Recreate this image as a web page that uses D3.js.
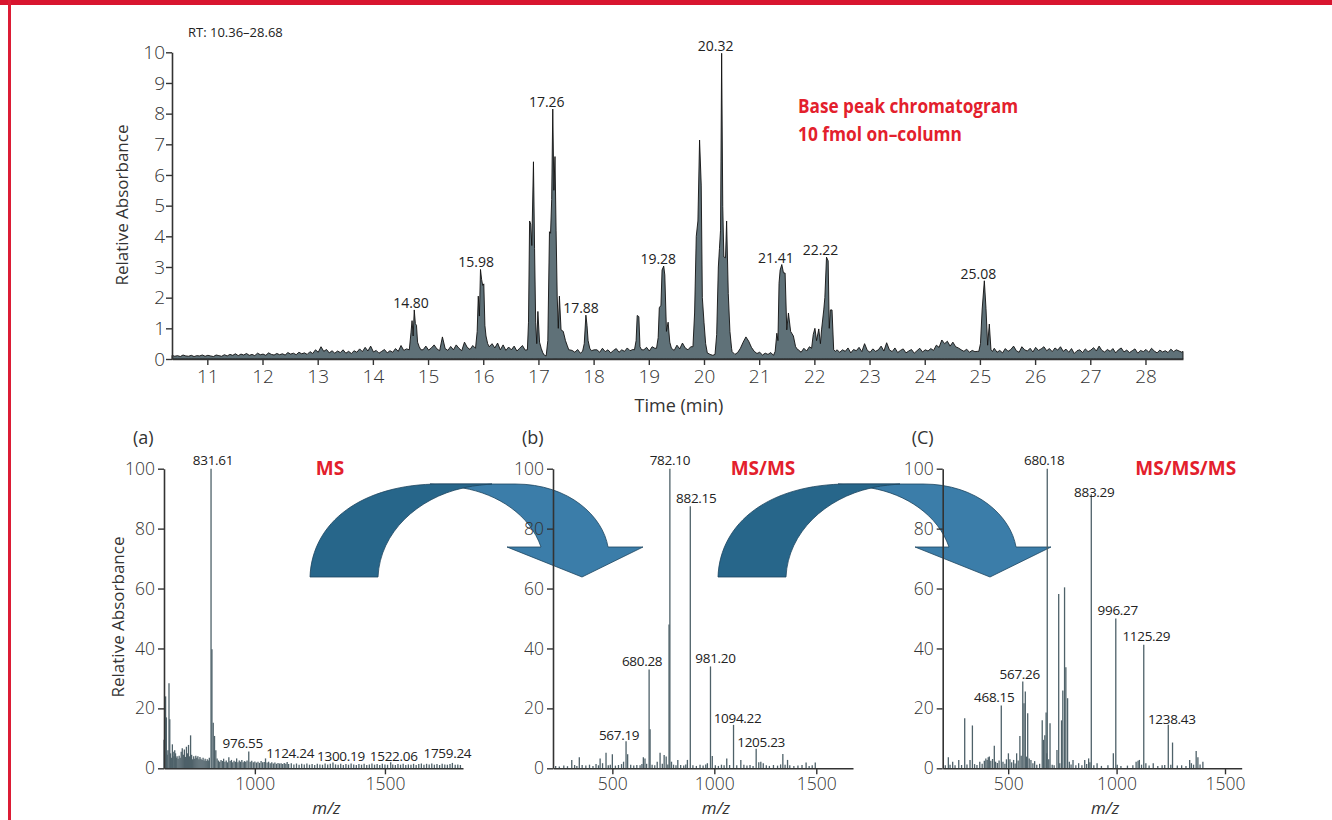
<!DOCTYPE html>
<html>
<head>
<meta charset="utf-8">
<script src="https://cdn.jsdelivr.net/npm/d3@7/dist/d3.min.js"></script>
<style>
  body { margin: 0; background: #fff; }
  svg { display: block; }
</style>
</head>
<body>
<svg id="chart" width="1332" height="820"></svg>
<script>
// ---- data: base peak chromatogram ----
const RT_START = 10.36, RT_END = 28.68;
const timeTicks = [11, 12, 13, 14, 15, 16, 17, 18, 19, 20, 21, 22, 23, 24, 25, 26, 27, 28];
const absTicks = [0, 1, 2, 3, 4, 5, 6, 7, 8, 9, 10];

// baseline noise, one value every 0.05 min from 10.36 (one row = one minute)
const BASE_STEP = 0.05;
const baseline = [
  .12,.09,.11,.08,.13,.10,.09,.12,.08,.11,.10,.13,.09,.12,.10,.08,.13,.11,.09,.14,
  .10,.15,.12,.17,.11,.16,.13,.18,.12,.15,.11,.19,.14,.16,.12,.20,.15,.13,.18,.14,
  .17,.13,.21,.16,.19,.14,.22,.17,.20,.15,.24,.18,.30,.22,.40,.25,.31,.20,.27,.19,
  .26,.21,.30,.19,.25,.18,.27,.22,.33,.24,.38,.26,.42,.23,.28,.19,.25,.31,.20,.27,
  .22,.34,.25,.44,.28,.33,.40,.50,.60,.48,.38,.30,.42,.29,.36,.46,.33,.27,.72,.34,
  .28,.41,.30,.46,.35,.27,.55,.38,.31,.44,.29,.37,.48,.33,.40,.60,.50,.36,.52,.30,
  .46,.28,.39,.30,.42,.26,.35,.44,.29,.38,.32,.40,.35,.30,.30,.30,.30,.30,.30,.30,
  .30,.30,.30,.30,.30,.28,.22,.31,.19,.26,.33,.21,.27,.30,.30,.22,.35,.24,.30,.20,
  .28,.34,.22,.30,.25,.36,.27,.31,.45,.30,.30,.30,.38,.26,.40,.35,.50,.30,.30,.30,
  .30,.38,.28,.45,.33,.52,.36,.30,.40,.55,.35,.30,.30,.30,.30,.15,.12,.20,.30,.30,
  .30,.30,.30,.24,.15,.21,.35,.55,.72,.58,.38,.25,.18,.22,.13,.19,.15,.21,.12,.30,
  .30,.30,.30,.30,.30,.30,.30,.30,.22,.35,.26,.40,.30,.30,.30,.30,.30,.30,.30,.30,
  .30,.30,.22,.30,.25,.36,.20,.31,.27,.38,.24,.50,.28,.22,.33,.25,.30,.42,.26,.53,
  .30,.24,.36,.21,.28,.33,.20,.26,.31,.19,.27,.35,.23,.30,.26,.34,.28,.45,.38,.62,
  .50,.58,.42,.55,.40,.36,.30,.25,.32,.22,.28,.24,.25,.30,.30,.30,.30,.30,.35,.22,
  .28,.20,.34,.25,.31,.42,.27,.22,.40,.30,.26,.35,.23,.38,.28,.33,.40,.27,.34,.24,
  .36,.29,.40,.25,.32,.22,.34,.18,.27,.30,.21,.33,.24,.29,.37,.26,.42,.28,.23,.31,
  .25,.34,.20,.30,.36,.23,.29,.21,.27,.33,.19,.28,.24,.31,.22,.35,.26,.20,.29,.23,
  .27,.21,.32,.24,.30,.26,.22
];
const baselineEnd = [RT_END, .25];

// peak clusters [time, relative absorbance]
const peakClusters = [
  [[14.66,.30],[14.69,.85],[14.71,1.25],[14.73,.75],[14.75,1.60],[14.77,1.15],[14.79,1.10],[14.81,.55],[14.84,.40],[14.87,.30]],
  [[15.86,.35],[15.89,.90],[15.91,2.05],[15.93,1.40],[15.95,2.92],[15.97,2.60],[15.99,2.40],[16.01,2.45],[16.03,1.10],[16.05,.75],[16.08,.50],[16.11,.40]],
  [[16.80,.30],[16.82,1.20],[16.84,4.50],[16.86,4.40],[16.88,3.70],[16.91,6.43],[16.93,3.60],[16.95,1.20],[16.97,.50],[16.99,1.55],[17.02,.55],[17.05,.35],[17.08,.20],[17.11,.12],[17.14,.10],
   [17.17,.60],[17.20,4.15],[17.22,4.10],[17.24,5.20],[17.26,8.15],[17.28,5.50],[17.30,6.60],[17.32,4.20],[17.34,2.05],[17.36,1.00],[17.38,2.05],[17.41,.95],[17.45,.90],[17.49,.60],[17.52,.45],[17.55,.30]],
  [[17.80,.25],[17.83,.50],[17.86,1.43],[17.88,1.10],[17.90,.60],[17.93,.35]],
  [[18.74,.30],[18.77,.60],[18.79,1.42],[18.82,1.38],[18.84,.40],[18.87,.30]],
  [[19.14,.35],[19.17,.70],[19.19,1.67],[19.22,1.75],[19.24,2.90],[19.27,3.03],[19.29,2.74],[19.32,.90],[19.35,1.20],[19.38,.55],[19.41,.35]],
  [[19.80,.40],[19.83,1.50],[19.86,4.00],[19.89,4.50],[19.92,7.14],[19.95,5.67],[19.97,2.00],[20.00,1.20],[20.03,.50],[20.06,.20]],
  [[20.20,.15],[20.23,.80],[20.26,3.00],[20.28,3.60],[20.30,4.20],[20.32,9.97],[20.34,4.97],[20.36,3.33],[20.39,3.30],[20.41,4.50],[20.44,2.14],[20.47,.90],[20.50,.35]],
  [[21.29,.25],[21.32,.84],[21.34,.60],[21.36,2.47],[21.38,2.90],[21.41,3.08],[21.44,2.81],[21.47,2.80],[21.50,.95],[21.53,1.50],[21.57,.90],[21.62,.75],[21.66,.40],[21.70,.30]],
  [[21.95,.35],[21.98,.80],[22.01,1.00],[22.04,.60],[22.08,.98],[22.11,.50],[22.13,.95],[22.17,1.60],[22.19,2.00],[22.22,3.32],[22.25,3.20],[22.27,1.00],[22.29,1.60],[22.32,1.60],[22.35,.30],[22.38,.25]],
  [[24.98,.25],[25.01,.50],[25.04,1.60],[25.08,2.55],[25.11,1.65],[25.14,.45],[25.17,1.14],[25.20,.30],[25.23,.25]]
];
const peakLabels = [[14.80,1.60],[15.98,2.92],[17.26,8.15],[17.88,1.43],[19.28,3.03],[20.32,9.97],[21.41,3.08],[22.22,3.32],[25.08,2.55]];

// ---- data: spectra [m/z, relative abundance] ----
const mzTicksA = [1000, 1500];
const mzTicksBC = [500, 1000, 1500];
const pctTicks = [0, 20, 40, 60, 80, 100];

const specA = [
  [651,9.5],[654,5],[657,24],[660,17],[663,4.5],[666,6],[670,28.4],[673,16.4],[676,5],[679,3.5],[683,8],[686,5.5],[689,4],[692,6],[695,5],[698,3.5],
  [701,4],[705,3.2],[709,4.2],[713,3.5],[717,5.5],[721,6.7],[725,4.5],[729,6.3],[733,3.8],[737,7.2],[741,5],[745,7.8],[749,4],[753,11],[757,4.5],
  [761,3],[765,4],[769,3.2],[773,4.2],[777,3.5],[781,4],[785,3],[789,3.8],[793,3.2],[797,2.8],[801,3.5],[805,2.6],[809,3.2],[813,2.4],[817,3],
  [821,2.6],[825,3.5],[831.6,100],[835,39.7],[840,15.2],[845,10.8],[850,6],[855,3.3],[860,2.6],[865,2.2],[870,2.8],[875,2.4],[880,3.2],[885,2.2],
  [890,2.6],[895,2],[900,3.7],[905,2.4],[910,2.8],[915,2],[920,2.5],[925,2.2],[930,3.3],[935,2],[940,2.6],[945,2.2],[950,2.8],[955,2],[960,2.4],
  [965,2.2],[970,2.6],[976.6,5.6],[982,2.2],[988,2.5],[994,2],[1000,2.3],[1006,1.9],[1012,2.2],[1018,1.8],[1024,2.4],[1030,2],[1036,2.1],[1041,3.3],
  [1047,1.9],[1053,2.2],[1059,1.7],[1065,2],[1071,1.6],[1077,1.9],[1083,1.5],[1089,1.8],[1095,1.6],[1101,1.7],[1107,1.4],[1113,1.8],[1119,1.5],
  [1124.2,2.1],[1130,1.4],[1140,1.7],[1150,1.3],[1160,1.6],[1170,1.2],[1180,1.5],[1190,1.3],[1200,1.6],[1210,1.2],[1220,1.4],[1230,1.1],[1240,1.5],
  [1250,1.3],[1260,1.2],[1270,1.6],[1280,1.3],[1290,1.5],[1300.2,1.9],[1310,1.3],[1320,1.2],[1330,1.5],[1340,1.1],[1350,1.4],[1360,1.2],[1370,1.6],
  [1380,1.3],[1390,1.1],[1400,1.4],[1410,1.2],[1420,1.5],[1430,1.1],[1440,1.3],[1450,1.6],[1460,1.2],[1470,1.4],[1480,1.1],[1490,1.5],[1500,1.3],
  [1510,1.2],[1522.1,2.0],[1530,1.3],[1540,1.1],[1550,1.4],[1560,1.2],[1570,1.5],[1580,1.1],[1590,1.3],[1600,1.2],[1610,1.5],[1620,1.1],[1630,1.4],
  [1640,1.6],[1650,1.2],[1660,1.5],[1670,1.3],[1680,1.6],[1690,1.2],[1700,1.4],[1710,1.1],[1720,1.5],[1730,1.3],[1740,1.2],[1750,1.4],[1759.2,1.8],
  [1770,1.2],[1780,1.3],[1790,1.1]
];
const labelsA = [[831.61,100],[976.55,5.6],[1124.24,2.2],[1300.19,1.4],[1522.06,1.4],[1759.24,2.4]];

const specB = [
  [222,0.8],[240,0.6],[262,0.9],[280,0.7],[301,2.8],[315,1.1],[326,0.8],[338,3.7],[352,1.1],[370,0.9],[388,1.2],[405,0.8],[420,1.4],[432,1.0],
  [440,3.3],[452,1.7],[469,5.2],[480,1.0],[490,1.2],[500,4.7],[515,0.9],[530,1.1],[545,1.4],[555,2.2],[567.2,9],[575,4.7],[590,1.2],[605,0.9],
  [620,1.1],[636,1.0],[645,1.4],[652,3.7],[660,3.3],[668,1.5],[680.3,33],[685,13],[695,1.2],[708,1.0],[720,2.2],[734,5.2],[745,1.5],[754,4.4],
  [764,3.9],[772,1.3],[778,48],[782.1,100],[790,2.2],[800,1.2],[812,1.0],[821,2.8],[835,1.1],[850,0.9],[860,1.3],[868,2.8],[882.2,87.5],[895,1.0],
  [912,0.8],[930,1.2],[945,0.9],[958,1.3],[966,1.7],[981.2,34],[990,4.1],[1005,1.0],[1020,0.8],[1035,1.2],[1048,1.0],[1061,3.3],[1075,1.1],
  [1094.2,14.5],[1110,1.0],[1130,2.8],[1145,1.2],[1160,0.9],[1175,1.1],[1190,0.8],[1205.2,6.5],[1218,2.0],[1228,2.2],[1240,1.7],[1255,1.0],
  [1270,0.8],[1290,1.1],[1310,0.9],[1325,1.3],[1336,4.8],[1347,1.2],[1359,2.8],[1370,1.0],[1390,0.8],[1410,0.9],[1430,1.1],[1450,1.9],[1465,0.8],
  [1480,1.0],[1495,1.9]
];
const labelsB = [[567.19,8.4],[680.28,33],[782.10,100],[882.15,87.5],[981.20,34],[1094.22,14],[1205.23,6]];

const specC = [
  [210,1.0],[224,3.7],[232,1.2],[244,2.2],[255,1.0],[272,2.8],[285,1.1],[299.5,16.7],[310,1.3],[324,2.8],[335,14.3],[345,1.4],[356,1.1],[369,2.2],
  [380,1.5],[390,2.5],[397,3.3],[403,2.8],[408,3.7],[413,3.9],[420,2.5],[428,3.1],[436,7.5],[442,2.2],[450,1.8],[458,2.6],[468.2,21],[476,2.2],
  [485,1.5],[492,3.0],[501,5],[508,3.0],[516,2.0],[525,2.8],[532,1.6],[539,5],[546,2.6],[554,10.8],[560,4.2],[567.3,29],[573,21.7],[579,25.6],
  [584,3.9],[590,18.4],[597,3.3],[605,2.8],[614,1.7],[622,2.4],[632,1.2],[645,1.5],[657,16],[663,9.5],[669,11],[675,18.6],[678,5],[680.2,100],
  [687,3],[693,15],[703,1.2],[712,1.0],[725,6.1],[733,58.2],[738,1.7],[746,16],[752,26],[760,60.4],[766,33.7],[774,23.4],[782,2.2],[790,1.3],
  [799,2.8],[812,1.0],[825,1.7],[840,1.0],[853,2.8],[862,1.4],[871,3.3],[877,2.0],[883.3,91.5],[895,1.0],[910,1.7],[930,0.8],[960,1.0],[985,5],
  [996.3,50],[1003,1.2],[1020,0.8],[1050,0.9],[1075,1.0],[1090,2.2],[1099,2.5],[1105,2.8],[1115,1.2],[1125.3,41.2],[1135,1.7],[1150,0.9],
  [1169,1.7],[1190,0.8],[1210,1.0],[1222,1.1],[1238.4,14.5],[1250,1.2],[1258,8.6],[1280,0.9],[1300,1.0],[1320,0.8],[1337,2.8],[1345,1.7],
  [1355,1.2],[1367,5.8],[1375,3.7],[1385,1.3],[1398,2.2]
];
const labelsC = [[468.15,21],[567.26,28.5],[680.18,100],[883.29,89.5],[996.27,50],[1125.29,41.2],[1238.43,13.5]];

// ---- style ----
const FONT = "'Open Sans', 'Noto Sans', 'DejaVu Sans', sans-serif";
const INK = "#333";
const RED = "#e3202c";
const BAR = "#4e6169";

const svg = d3.select("#chart").attr("font-family", FONT);

// frame
svg.append("rect").attr("x", 0).attr("y", 0).attr("width", 1332).attr("height", 5).attr("fill", "#d8152f");
svg.append("rect").attr("x", 8).attr("y", 0).attr("width", 3).attr("height", 820).attr("fill", "#dc1c35");

function styleAxis(g, size) {
  g.attr("font-family", FONT).attr("font-size", size);
  g.select(".domain").attr("stroke", INK).attr("stroke-width", 1.6);
  g.selectAll(".tick line").attr("stroke", INK).attr("stroke-width", 1.4);
  g.selectAll(".tick text").attr("fill", INK).attr("font-weight", 300);
}

// ---- top: chromatogram ----
const xT = d3.scaleLinear().domain([RT_START, RT_END]).range([172, 1183]);
const yT = d3.scaleLinear().domain([0, 10]).range([359, 52.3]);

const windows = peakClusters.map((c) => [c[0][0], c[c.length - 1][0]]);
const inWindow = (t) => windows.some(([a, b]) => t >= a - 1e-6 && t <= b + 1e-6);
const chromo = baseline
  .map((v, i) => [RT_START + i * BASE_STEP, v])
  .filter((d) => !inWindow(d[0]))
  .concat(peakClusters.flat(), [baselineEnd])
  .sort((a, b) => a[0] - b[0]);

svg.append("path")
  .datum(chromo)
  .attr("fill", "#5f7178")
  .attr("stroke", "#111")
  .attr("stroke-width", 0.9)
  .attr("stroke-linejoin", "miter")
  .attr("d", d3.area().x((d) => xT(d[0])).y0(yT(0)).y1((d) => yT(d[1])));

const gxT = svg.append("g").attr("transform", `translate(0,${yT(0)})`)
  .call(d3.axisBottom(xT).tickValues(timeTicks).tickFormat(d3.format("d")).tickSize(6).tickSizeOuter(0).tickPadding(5));
styleAxis(gxT, 19);
const gyT = svg.append("g").attr("transform", `translate(${xT(RT_START)},0)`)
  .call(d3.axisLeft(yT).tickValues(absTicks).tickFormat(d3.format("d")).tickSize(6).tickSizeOuter(0).tickPadding(1));
styleAxis(gyT, 19);

svg.append("g").selectAll("text").data(peakLabels).join("text")
  .attr("x", (d) => xT(d[0]) - 6)
  .attr("y", (d) => yT(d[1]) - 2)
  .attr("text-anchor", "middle")
  .attr("font-size", 14)
  .attr("fill", "#222")
  .text((d) => d[0].toFixed(2));

svg.append("text").attr("x", 188).attr("y", 36.5).attr("font-size", 13).attr("fill", "#222").text("RT: 10.36–28.68");
svg.append("text").attr("x", 679).attr("y", 412).attr("text-anchor", "middle").attr("font-size", 18).attr("fill", INK).text("Time (min)");
svg.append("text").attr("transform", "translate(128,205) rotate(-90)").attr("text-anchor", "middle")
  .attr("font-size", 17).attr("fill", INK).text("Relative Absorbance");

const note = svg.append("g").attr("fill", RED).attr("font-weight", 700).attr("font-size", 20);
note.append("text").attr("x", 798).attr("y", 113).attr("textLength", 220).attr("lengthAdjust", "spacingAndGlyphs").text("Base peak chromatogram");
note.append("text").attr("x", 798).attr("y", 140.5).attr("textLength", 164).attr("lengthAdjust", "spacingAndGlyphs").text("10 fmol on–column");

// ---- curved arrows between the spectra (drawn first, spectra sit on top) ----
const arrowLight = "M430,484 L515,484 C570,484 603,517 608,547 L643,547 L582,577 L507,547 L541,547 C530,515 498,494 463,488 C450,486 440,485 430,484 Z";
const arrowDark = "M310,577 C312,522 362,484 440,484 L492,484 C480,485 471,486 463,488 C418,498 380,532 378,577 Z";
for (const dx of [0, 408]) {
  const g = svg.append("g").attr("transform", `translate(${dx},0)`).attr("stroke", "#1d4560").attr("stroke-width", 0.8);
  g.append("path").attr("d", arrowLight).attr("fill", "#3b7da9");
  g.append("path").attr("d", arrowDark).attr("fill", "#27668a");
}

// ---- bottom: spectra ----
const yS = d3.scaleLinear().domain([0, 100]).range([768.3, 468.7]);

const panels = [
  { tag: "(a)", title: "MS", titleDx: 166, data: specA, labels: labelsA, domain: [650.8, 1800], range: [164, 463], ticks: mzTicksA,
    shift: [[2, 0], [-6, 0], [3, 0], [8, 0], [3, 0], [-5, 0]], ylabel: true },
  { tag: "(b)", title: "MS/MS", titleDx: 210, data: specB, labels: labelsB, domain: [209, 1680], range: [553, 853], ticks: mzTicksBC,
    shift: [[-7, 0], [-7, 0], [0, 0], [6, 0], [5, 0], [4, 0], [5, 0]] },
  { tag: "(C)", title: "MS/MS/MS", titleDx: 243, data: specC, labels: labelsC, domain: [198, 1577], range: [942.7, 1241.7], ticks: mzTicksBC,
    shift: [[-7, 0], [-3, 0], [-3, 0], [3, 0], [2, 0], [2.5, 0], [3.5, 0]] }
];

for (const p of panels) {
  const x = d3.scaleLinear().domain(p.domain).range(p.range);
  const x0 = p.range[0];

  svg.append("g").selectAll("line").data(p.data).join("line")
    .attr("x1", (d) => x(d[0])).attr("x2", (d) => x(d[0]))
    .attr("y1", yS(0)).attr("y2", (d) => yS(d[1]))
    .attr("stroke", BAR).attr("stroke-width", 1.3);

  const gx = svg.append("g").attr("transform", `translate(0,${yS(0)})`)
    .call(d3.axisBottom(x).tickValues(p.ticks).tickFormat(d3.format("d")).tickSize(6).tickSizeOuter(0).tickPadding(3));
  styleAxis(gx, 17.5);
  const gy = svg.append("g").attr("transform", `translate(${x0},0)`)
    .call(d3.axisLeft(yS).tickValues(pctTicks).tickFormat(d3.format("d")).tickSize(6).tickSizeOuter(0).tickPadding(3));
  styleAxis(gy, 17.5);

  svg.append("g").selectAll("text").data(p.labels).join("text")
    .attr("x", (d, i) => x(d[0]) + p.shift[i][0])
    .attr("y", (d, i) => yS(d[1]) - 3.5 + p.shift[i][1])
    .attr("text-anchor", "middle")
    .attr("font-size", 13.5)
    .attr("letter-spacing", -0.3)
    .attr("fill", "#222")
    .text((d) => d[0].toFixed(2));

  svg.append("text").attr("x", x0 - 31).attr("y", 444).attr("font-size", 18).attr("fill", INK).text(p.tag);
  svg.append("text").attr("x", x0 + p.titleDx).attr("y", 475).attr("text-anchor", "middle")
    .attr("font-size", 19).attr("font-weight", 700).attr("fill", RED).text(p.title);
  svg.append("text").attr("x", (p.range[0] + p.range[1]) / 2 + 13).attr("y", 814).attr("text-anchor", "middle")
    .attr("font-size", 17).attr("font-style", "italic").attr("fill", INK).text("m/z");

  if (p.ylabel) {
    svg.append("text").attr("transform", "translate(124,617) rotate(-90)").attr("text-anchor", "middle")
      .attr("font-size", 17).attr("fill", INK).text("Relative Absorbance");
  }
}
</script>
</body>
</html>
